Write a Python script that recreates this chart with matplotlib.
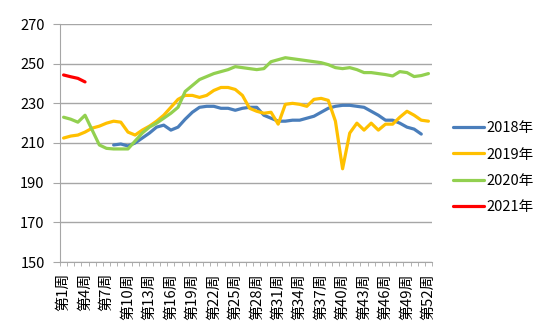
import numpy as np
import matplotlib.pyplot as plt

plt.rcParams['font.family'] = ['Noto Sans CJK SC', 'DejaVu Sans']

weeks = ['第%d周' % w for w in range(1, 53)]

# weekly values, None where the year has no data
y2018 = [None] * 7 + [209, 209.5, 208.5, 210, 212.5, 215, 218, 219, 216.5, 218, 222,
         225.5, 228, 228.5, 228.5, 227.5, 227.5, 226.5, 227.5, 228, 228, 224, 222.5,
         221, 221, 221.5, 221.5, 222.5, 223.5, 225.5, 227.5, 228.5, 229, 229, 228.5,
         228, 226, 224, 221.5, 221.5, 220, 218, 217, 214.5, None]
y2019 = [212.5, 213.5, 214, 215.5, 217.5, 218.5, 220, 221, 220.5, 215.5, 214, 216.5,
         218.5, 221, 224, 228, 232, 234, 234, 233, 234, 236.5, 238, 238, 237, 234,
         227.5, 226, 225, 225.5, 219.5, 229.5, 230, 229.5, 228.5, 232, 232.5, 231.5,
         221, 197, 215, 220, 216.5, 220, 216.5, 219.5, 219.5, 223, 226, 224, 221.5, 221]
y2020 = [223, 222, 220.5, 224, 216.5, 209, 207.3, 207, 207, 207, 211, 215, 218, 220,
         222.5, 225, 228, 236, 239, 242, 243.5, 245, 246, 247, 248.5, 248, 247.5, 247,
         247.5, 251, 252, 253, 252.5, 252, 251.5, 251, 250.5, 249.5, 248, 247.5, 248,
         247, 245.5, 245.5, 245, 244.5, 243.8, 246, 245.5, 243.5, 244, 245]
y2021 = [244.3, 243.4, 242.6, 240.8] + [None] * 48

series = [('2018年', y2018, '#4a7ebb'),
          ('2019年', y2019, '#ffc000'),
          ('2020年', y2020, '#92d050'),
          ('2021年', y2021, '#ff0000')]

fig = plt.figure(figsize=(5.5, 3.33), dpi=100)
ax = fig.add_axes([60 / 550, 1 - 262 / 333, 372 / 550, 238 / 333])

x = np.arange(len(weeks))
for name, vals, color in series:
    v = np.array([np.nan if a is None else a for a in vals], dtype=float)
    ax.plot(x, v, color=color, lw=2.3, label=name, solid_capstyle='round')

ax.set_xlim(-0.5, len(weeks) - 0.5)
ax.set_ylim(150, 270)
ax.set_yticks(range(150, 271, 20))
ax.yaxis.grid(True, color='#a6a6a6', lw=1)
ax.set_axisbelow(True)

ax.set_xticks(x[::3])
ax.set_xticklabels(weeks[::3], rotation=90, fontsize=10.8)
ax.set_xticks(np.arange(-0.5, len(weeks)), minor=True)
ax.tick_params(axis='x', which='major', length=0, pad=8)
ax.tick_params(axis='x', which='minor', length=3, color='#a6a6a6', direction='out')
ax.tick_params(axis='y', length=5, color='#a6a6a6', labelsize=10.5, pad=6)

for s in ['top', 'right']:
    ax.spines[s].set_visible(False)
for s in ['left', 'bottom']:
    ax.spines[s].set_color('#a6a6a6')

fig.legend(loc='upper left', bbox_to_anchor=(440 / 550, 1 - 108 / 333), frameon=False,
           fontsize=10.5, handlelength=2.1, handletextpad=0.2, labelspacing=0.85)

fig.savefig('out.png', dpi=100)
